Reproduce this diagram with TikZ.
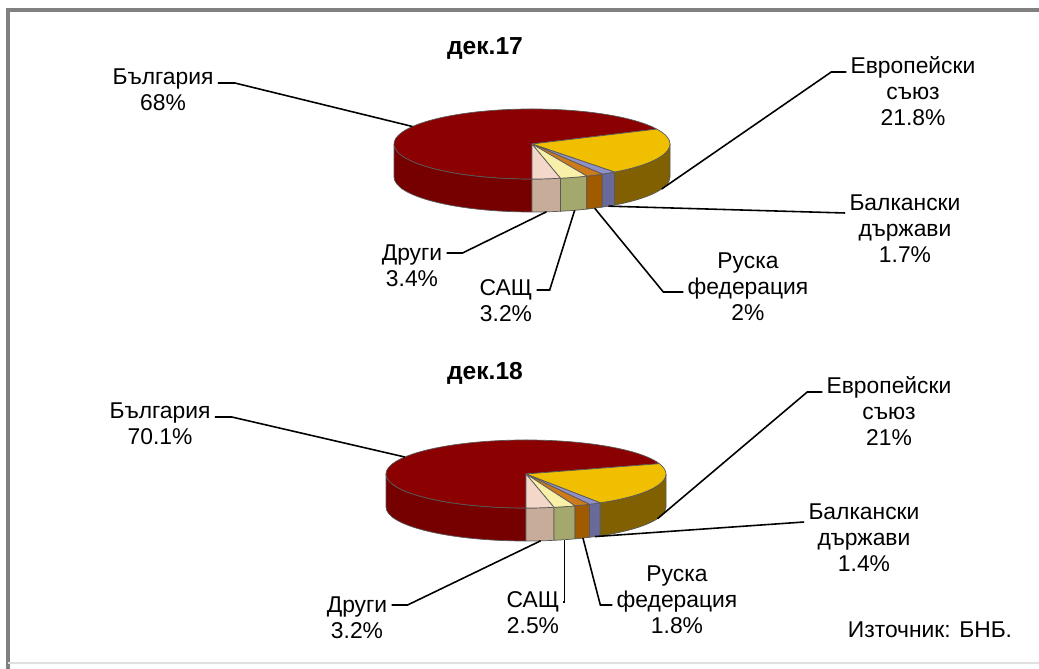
\documentclass[tikz,border=0pt]{standalone}
\usepackage{fontspec}
\setmainfont{Liberation Sans}
\usepackage{tikz}
\usetikzlibrary{positioning}
\usetikzlibrary{calc}

\definecolor{bgtop}{HTML}{8B0000}
\definecolor{bgside}{HTML}{760000}
\definecolor{eutop}{HTML}{F0C000}
\definecolor{euside}{HTML}{806000}
\definecolor{bktop}{HTML}{9090C8}
\definecolor{bkside}{HTML}{6A6A9A}
\definecolor{rutop}{HTML}{CC7A1A}
\definecolor{ruside}{HTML}{A05A00}
\definecolor{ustop}{HTML}{F8F0A8}
\definecolor{usside}{HTML}{A4A86C}
\definecolor{ottop}{HTML}{F3D8CA}
\definecolor{otside}{HTML}{C8AC9A}

% pie radii and thickness (set again for each pie)
\def\piex{138}\def\piey{35}\def\pieh{33}

% top face of a slice: centre, from, to, colour
\newcommand{\slicetop}[4]{%
  \filldraw[slice, fill=#4] (#1) -- ([shift={({\piex*cos(#2)},{\piey*sin(#2)})}]#1)
    arc[start angle=#2, end angle=#3, x radius=\piex, y radius=\piey] -- cycle;}
% front side of a slice: centre, from, to, colour
\newcommand{\sliceside}[4]{%
  \filldraw[slice, fill=#4] ([shift={({\piex*cos(#2)},{\piey*sin(#2)})}]#1)
    arc[start angle=#2, end angle=#3, x radius=\piex, y radius=\piey] -- ++(0,-\pieh)
    arc[start angle=#3, end angle=#2, x radius=\piex, y radius=\piey] -- cycle;}

\begin{document}
\begin{tikzpicture}[x=0.02cm, y=0.02cm]
% -------------------------------------------------
\tikzset{
  slice/.style={draw=black!65, line width=0.4pt, line join=round},
  lbl/.style={align=center, inner sep=0pt, font=\fontsize{13}{14.8}\selectfont},
  ttl/.style={inner sep=0pt, font=\bfseries\fontsize{14}{16}\selectfont},
  leader/.style={draw, line width=0.9pt}
}
% -------------------------------------------------
\useasboundingbox (0,0) rectangle (1039,-669);
\draw[black!50, line width=2.5pt] (8,-669) -- (8,-10) -- (1039,-10);
\draw[black!12, line width=1.5pt] (8,-663) -- (1039,-663);

% first pie (dec. 17)
\coordinate (c0) at (532,-144);
\def\piex{138}\def\piey{35}
\sliceside{c0}{180}{270}{bgside}
\sliceside{c0}{-90}{-78.12}{otside}
\sliceside{c0}{-78.12}{-66.6}{usside}
\sliceside{c0}{-66.6}{-59.4}{ruside}
\sliceside{c0}{-59.4}{-53.28}{bkside}
\sliceside{c0}{-53.28}{0}{euside}
\slicetop{c0}{25.2}{270}{bgtop}
\slicetop{c0}{-53.28}{25.2}{eutop}
\slicetop{c0}{-59.4}{-53.28}{bktop}
\slicetop{c0}{-66.6}{-59.4}{rutop}
\slicetop{c0}{-78.12}{-66.6}{ustop}
\slicetop{c0}{-90}{-78.12}{ottop}

\coordinate (q0) at ($(c0)+({\piex*cos(150)},{\piey*sin(150)})$);
\coordinate (q1) at ($(c0)+({\piex*cos(-20)},{\piey*sin(-20)-\pieh})$);
\coordinate (q2) at ($(c0)+({\piex*cos(-56.4)},{\piey*sin(-56.4)-\pieh})$);
\coordinate (q3) at ($(c0)+({\piex*cos(-63)},{\piey*sin(-63)-\pieh})$);
\coordinate (q4) at ($(c0)+({\piex*cos(-72)},{\piey*sin(-72)-\pieh})$);
\coordinate (q5) at ($(c0)+({\piex*cos(-84)},{\piey*sin(-84)-\pieh})$);

\node[ttl] (t0) at (485,-48) {дек.17};
\node[lbl] (l0) at (163,-90) {България\\68\%};
\node[lbl] (l1) at (913,-91) {Европейски\\съюз\\21.8\%};
\node[lbl] (l2) at (905,-229) {Балкански\\държави\\1.7\%};
\node[lbl] (l3) at (748,-287) {Руска\\федерация\\2\%};
\node[lbl] (l4) at (506,-301) {САЩ\\3.2\%};
\node[lbl] (l5) at (412,-266) {Други\\3.4\%};

\draw[leader] ([shift={(4,7)}]l0.east) -- ++(17,0) -- (q0);
\draw[leader] ([shift={(-4,19)}]l1.west) -- ++(-15,0) -- (q1);
\draw[leader] ([shift={(-4,16)}]l2.west) -- (q2);
\draw[leader] ([shift={(-4,-5)}]l3.west) -- ++(-20,0) -- (q3);
\draw[leader] ([shift={(4,11)}]l4.east) -- ++(13,0) -- (q4);
\draw[leader] ([shift={(4,13)}]l5.east) -- ++(16,0) -- (q5);

% second pie (dec. 18)
\coordinate (c1) at (526,-474);
\def\piex{140}\def\piey{34}
\sliceside{c1}{180}{270}{bgside}
\sliceside{c1}{-90}{-78.48}{otside}
\sliceside{c1}{-78.48}{-69.48}{usside}
\sliceside{c1}{-69.48}{-63}{ruside}
\sliceside{c1}{-63}{-57.96}{bkside}
\sliceside{c1}{-57.96}{0}{euside}
\slicetop{c1}{17.64}{270}{bgtop}
\slicetop{c1}{-57.96}{17.64}{eutop}
\slicetop{c1}{-63}{-57.96}{bktop}
\slicetop{c1}{-69.48}{-63}{rutop}
\slicetop{c1}{-78.48}{-69.48}{ustop}
\slicetop{c1}{-90}{-78.48}{ottop}

\coordinate (r0) at ($(c1)+({\piex*cos(150)},{\piey*sin(150)})$);
\coordinate (r1) at ($(c1)+({\piex*cos(-20)},{\piey*sin(-20)-\pieh})$);
\coordinate (r2) at ($(c1)+({\piex*cos(-60.5)},{\piey*sin(-60.5)-\pieh})$);
\coordinate (r3) at ($(c1)+({\piex*cos(-66)},{\piey*sin(-66)-\pieh})$);
\coordinate (r4) at ($(c1)+({\piex*cos(-74)},{\piey*sin(-74)-\pieh})$);
\coordinate (r5) at ($(c1)+({\piex*cos(-84)},{\piey*sin(-84)-\pieh})$);

\node[ttl] (t1) at (485,-373) {дек.18};
\node[lbl] (m0) at (160,-424) {България\\70.1\%};
\node[lbl] (m1) at (889,-411) {Европейски\\съюз\\21\%};
\node[lbl] (m2) at (864,-538) {Балкански\\държави\\1.4\%};
\node[lbl] (m3) at (677,-600) {Руска\\федерация\\1.8\%};
\node[lbl] (m4) at (533,-613) {САЩ\\2.5\%};
\node[lbl] (m5) at (357,-618) {Други\\3.2\%};
\node[lbl] (s0) at (930,-630) {Източник: БНБ.};

\draw[leader] ([shift={(4,7)}]m0.east) -- ++(17,0) -- (r0);
\draw[leader] ([shift={(-4,19)}]m1.west) -- ++(-15,0) -- (r1);
\draw[leader] ([shift={(-4,16)}]m2.west) -- (r2);
\draw[leader] ([shift={(-4,-5)}]m3.west) -- ++(-12,0) -- (r3);
\draw[leader] ([shift={(3,11)}]m4.east) -| (r4);
\draw[leader] ([shift={(4,13)}]m5.east) -- ++(16,0) -- (r5);

\end{tikzpicture}
\end{document}
